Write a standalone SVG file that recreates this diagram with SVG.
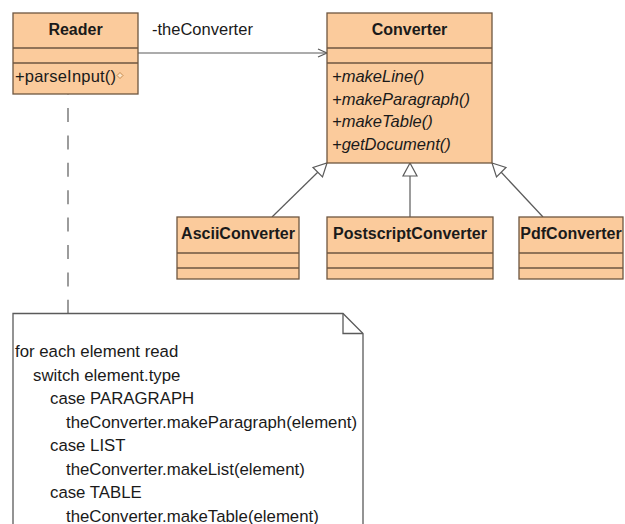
<svg xmlns="http://www.w3.org/2000/svg" width="625" height="524" viewBox="0 0 625 524">
<style>
.box{fill:#fbcb9c;stroke:#6e5640;stroke-width:1.3}
.sep{stroke:#6e5640;stroke-width:1.3;fill:none}
.ln{stroke:#5a5a5a;stroke-width:1.2;fill:none}
.tri{fill:#ffffff;stroke:#5a5a5a;stroke-width:1.2}
text{font-family:"Liberation Sans",Arial,sans-serif;fill:#1a1a1a}
.nm{font-size:16px;font-weight:bold;text-anchor:middle}
.tx{font-size:16.5px}
.it{font-size:16.5px;font-style:italic}
.nt{font-size:16.8px}
</style>
<rect width="625" height="524" fill="#ffffff"/>
<g id="connectors">
  <line class="ln" x1="138" y1="53" x2="327" y2="53"/>
  <polyline class="ln" points="318,49 327,53 318,57"/>
  <text class="tx" x="152" y="35">-theConverter</text>
  <line class="ln" x1="68" y1="87" x2="68" y2="314" stroke-dasharray="14 13.4" stroke-dashoffset="6.4"/>
  <line class="ln" x1="318" y1="172" x2="272" y2="217"/>
  <polygon class="tri" points="327,163 322.5,177 313,167.5"/>
  <line class="ln" x1="410" y1="176" x2="410" y2="217"/>
  <polygon class="tri" points="410,163 417,176 403,176"/>
  <line class="ln" x1="501" y1="172" x2="543" y2="217"/>
  <polygon class="tri" points="492,163 506,167.5 496.5,177"/>
</g>
<g id="reader">
  <rect class="box" x="13" y="13" width="125" height="81"/>
  <line class="sep" x1="13" y1="48" x2="138" y2="48"/>
  <line class="sep" x1="13" y1="63" x2="138" y2="63"/>
  <text class="nm" x="75.5" y="35">Reader</text>
  <text class="tx" x="15" y="82" textLength="101">+parseInput()</text>
  <polygon points="120,72.5 123,75.5 120,78.5 117,75.5" fill="#fbe4c8" stroke="#c08040" stroke-width="0.9"/>
</g>
<g id="converter">
  <rect class="box" x="327" y="13" width="165" height="150"/>
  <line class="sep" x1="327" y1="48" x2="492" y2="48"/>
  <line class="sep" x1="327" y1="63" x2="492" y2="63"/>
  <text class="nm" x="409.5" y="35">Converter</text>
  <text class="it" x="332" y="82">+makeLine()</text>
  <text class="it" x="332" y="105">+makeParagraph()</text>
  <text class="it" x="332" y="127">+makeTable()</text>
  <text class="it" x="332" y="150">+getDocument()</text>
</g>
<g id="asciiconverter">
  <rect class="box" x="177" y="217" width="122" height="62"/>
  <line class="sep" x1="177" y1="253" x2="299" y2="253"/>
  <line class="sep" x1="177" y1="268" x2="299" y2="268"/>
  <text class="nm" x="238" y="239">AsciiConverter</text>
</g>
<g id="postscriptconverter">
  <rect class="box" x="327" y="217" width="166" height="62"/>
  <line class="sep" x1="327" y1="253" x2="493" y2="253"/>
  <line class="sep" x1="327" y1="268" x2="493" y2="268"/>
  <text class="nm" x="410" y="239">PostscriptConverter</text>
</g>
<g id="pdfconverter">
  <rect class="box" x="519" y="217" width="104" height="62"/>
  <line class="sep" x1="519" y1="253" x2="623" y2="253"/>
  <line class="sep" x1="519" y1="268" x2="623" y2="268"/>
  <text class="nm" x="571" y="239">PdfConverter</text>
</g>
<g id="note">
  <path d="M13,540 L13,313.5 L343,313.5 L363,333.5 L363,540" fill="#ffffff" stroke="#5a5a5a" stroke-width="1.3"/>
  <polyline points="343,313.5 343,333.5 363,333.5" fill="none" stroke="#5a5a5a" stroke-width="1.3"/>
  <text class="nt" x="15" y="357">for each element read</text>
  <text class="nt" x="33" y="380.5">switch element.type</text>
  <text class="nt" x="50" y="404">case PARAGRAPH</text>
  <text class="nt" x="66" y="427.5">theConverter.makeParagraph(element)</text>
  <text class="nt" x="50" y="451">case LIST</text>
  <text class="nt" x="66" y="474.5">theConverter.makeList(element)</text>
  <text class="nt" x="50" y="498">case TABLE</text>
  <text class="nt" x="66" y="521.5">theConverter.makeTable(element)</text>
</g>
</svg>
